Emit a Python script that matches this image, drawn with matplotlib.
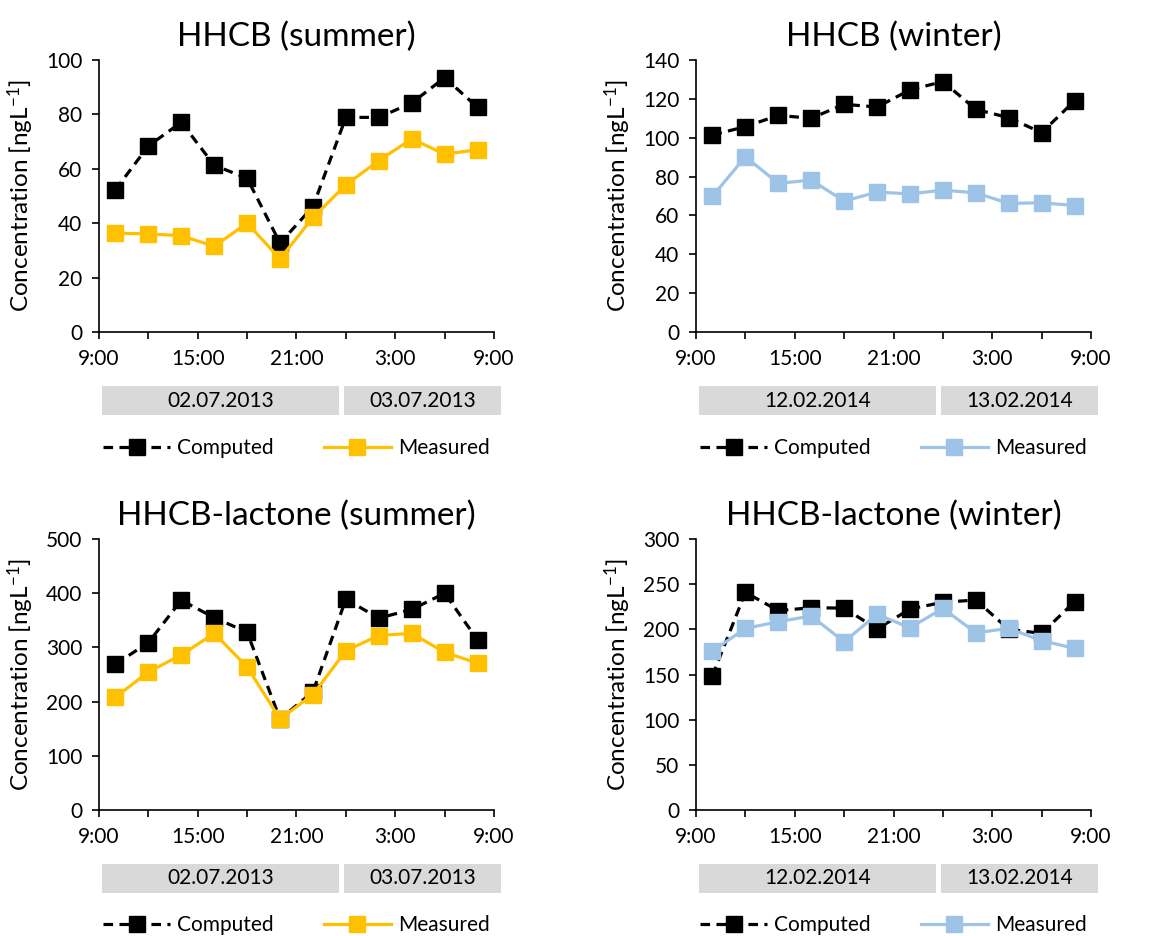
import matplotlib
matplotlib.use('Agg')
import matplotlib.pyplot as plt
import matplotlib.transforms as mtransforms
from matplotlib.patches import Rectangle
from matplotlib.lines import Line2D

plt.rcParams['font.family'] = ['Lato', 'DejaVu Sans']
plt.rcParams['mathtext.fontset'] = 'custom'
plt.rcParams['mathtext.rm'] = 'Lato'
plt.rcParams['mathtext.it'] = 'Lato:italic'

# sampling times (hours after midnight of the first day)
hours = [10, 12, 14, 16, 18, 20, 22, 24, 26, 28, 30, 32]

hhcb_summer_comp = [52.3, 68.4, 77.1, 61.3, 56.5, 32.7, 46.1, 78.9, 78.9, 84.2, 93.5, 82.6]
hhcb_summer_meas = [36.3, 36.1, 35.4, 31.5, 40.0, 26.9, 42.1, 54.1, 63.0, 71.0, 65.4, 67.0]

hhcb_winter_comp = [101.4, 105.7, 111.5, 110.0, 117.2, 115.8, 124.6, 128.9, 114.6, 110.3, 102.6, 119.0]
hhcb_winter_meas = [69.9, 90.2, 76.5, 78.2, 67.4, 72.0, 71.1, 73.0, 71.6, 66.2, 66.5, 65.1]

lact_summer_comp = [269, 309, 387, 355, 328, 168, 218, 389, 354, 370, 400, 314]
lact_summer_meas = [208, 255, 286, 326, 264, 168, 213, 294, 322, 326, 291, 271]

lact_winter_comp = [148.7, 241, 220.7, 224, 223.5, 200.4, 222.5, 230, 232.5, 200, 195.6, 230.6]
lact_winter_meas = [176, 201, 208.5, 214.8, 186.3, 216.6, 201.8, 223.2, 196.3, 201, 187.5, 179]

tick_hours = [9, 12, 15, 18, 21, 24, 27, 30, 33]
tick_labels = ['9:00', '', '15:00', '', '21:00', '', '3:00', '', '9:00']

summer_dates = ['02.07.2013', '03.07.2013']
winter_dates = ['12.02.2014', '13.02.2014']

orange = '#FFC000'
blue = '#9DC3E6'


def panel(fig, rect, title, comp, meas, mcolor, ymax, ystep, dates):
	ax = fig.add_axes(rect)
	ax.plot(hours, comp, color='black', linestyle=(0, (3, 2)), linewidth=2.3,
			marker='s', markersize=11.5, markerfacecolor='black', markeredgecolor='black', zorder=3)
	ax.plot(hours, meas, color=mcolor, linestyle='-', linewidth=2.3,
			marker='s', markersize=11.5, markerfacecolor=mcolor, markeredgecolor=mcolor, zorder=4)
	ax.set_xlim(9, 33)
	ax.set_ylim(0, ymax)
	ax.set_yticks(list(range(0, ymax + 1, ystep)))
	ax.set_xticks(tick_hours)
	ax.set_xticklabels(tick_labels)
	for s in ['top', 'right']:
		ax.spines[s].set_visible(False)
	for s in ['left', 'bottom']:
		ax.spines[s].set_linewidth(1.2)
	ax.tick_params(axis='both', direction='out', length=5, width=1.2, labelsize=15, pad=7)
	ax.set_title(title, fontsize=24, pad=10)
	ax.set_ylabel('Concentration [ngL$^{-1}$]', fontsize=17.5)
	ax.yaxis.set_label_coords(-0.16, 0.5)

	# date bars under the time axis
	trans = mtransforms.blended_transform_factory(ax.transData, ax.transAxes)
	spans = [(9.2, 23.6), (23.9, 33.4)]
	for (x0, x1), d in zip(spans, dates):
		ax.add_patch(Rectangle((x0, -0.305), x1 - x0, 0.106, transform=trans,
							   facecolor='#D9D9D9', edgecolor='none', clip_on=False))
		ax.text((x0 + x1) / 2, -0.252, d, transform=trans, ha='center', va='center', fontsize=15)

	handles = [Line2D([], [], color='black', linestyle=(0, (3, 2)), linewidth=2.3, marker='s',
					  markersize=11.5, markerfacecolor='black'),
			   Line2D([], [], color=mcolor, linewidth=2.3, marker='s', markersize=11.5,
					  markerfacecolor=mcolor, markeredgecolor=mcolor)]
	ax.legend(handles, ['Computed', 'Measured'], loc='center', bbox_to_anchor=(0.5, -0.426),
			  ncol=2, frameon=False, fontsize=15, handlelength=3.2, handletextpad=0.35,
			  columnspacing=2.4)
	return ax


fig = plt.figure(figsize=(11.51, 9.36), dpi=100)
w = 0.3432
panel(fig, [0.086, 0.6453, w, 0.2906], 'HHCB (summer)', hhcb_summer_comp, hhcb_summer_meas,
	  orange, 100, 20, summer_dates)
panel(fig, [0.6047, 0.6453, w, 0.2906], 'HHCB (winter)', hhcb_winter_comp, hhcb_winter_meas,
	  blue, 140, 20, winter_dates)
panel(fig, [0.086, 0.1346, w, 0.2895], 'HHCB-lactone (summer)', lact_summer_comp, lact_summer_meas,
	  orange, 500, 100, summer_dates)
panel(fig, [0.6047, 0.1346, w, 0.2895], 'HHCB-lactone (winter)', lact_winter_comp, lact_winter_meas,
	  blue, 300, 50, winter_dates)

fig.savefig('out.png', dpi=100)
